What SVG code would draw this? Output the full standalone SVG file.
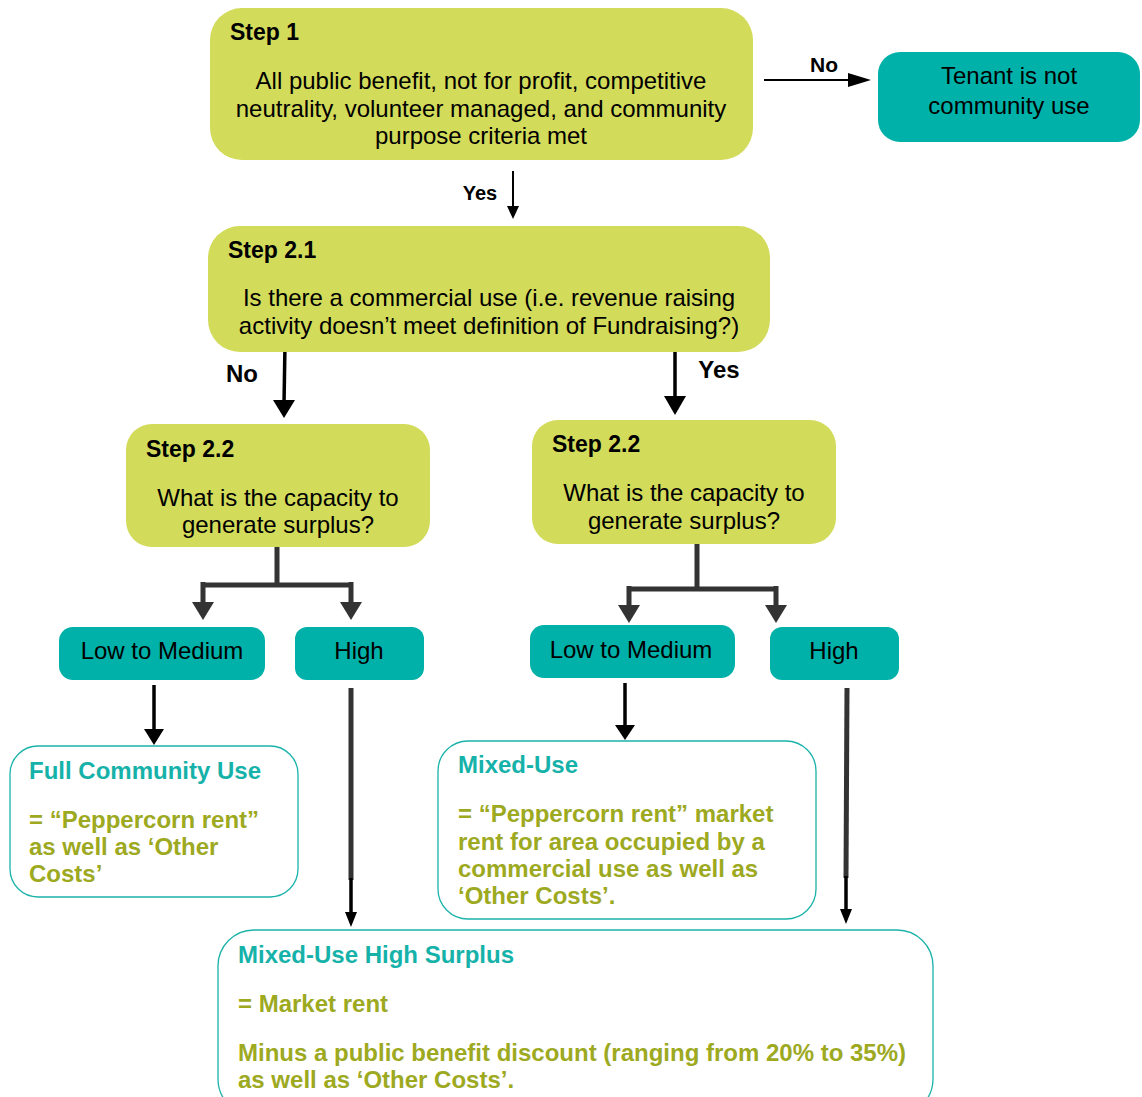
<svg xmlns="http://www.w3.org/2000/svg" width="1142" height="1097" viewBox="0 0 1142 1097">
<defs>
<style>
.yg{fill:#D3DB5B;}
.tl{fill:#00B1A9;}
.res{fill:#FFFFFF;stroke:#1AB3AA;stroke-width:1.3;}
text{font-family:"Liberation Sans",Arial,sans-serif;}
.step{font-size:23px;font-weight:bold;fill:#000;}
.body{font-size:24px;fill:#000;text-anchor:middle;}
.lab{font-weight:bold;fill:#000;text-anchor:middle;}
.opt{font-size:24px;fill:#000;text-anchor:middle;}
.rt{font-size:24px;font-weight:bold;fill:#16B2A9;}
.rb{font-size:24px;font-weight:bold;fill:#9DA91F;}
.thin{stroke:#000;stroke-width:2;fill:none;}
.med{stroke:#000;stroke-width:3.5;fill:none;}
.thick{stroke:#333;stroke-width:5;fill:none;}
</style>
</defs>
<g id="connectors">
<line class="thin" x1="764" y1="80" x2="860" y2="80"/>
<path d="M848,73 L871,80 L848,87z" fill="#000"/>
<line class="thin" x1="513" y1="171" x2="513" y2="208"/>
<path d="M507,206 L513,219 L519,206z" fill="#000"/>
<line class="med" x1="285" y1="344" x2="284" y2="404"/>
<path d="M273,400 L284,418 L295,400z" fill="#000"/>
<line class="med" x1="675" y1="342" x2="675" y2="400"/>
<path d="M664,396 L675,415 L686,396z" fill="#000"/>
<path class="thick" d="M277,533 V585 M203,585 H351 M203,582 V606 M351,582 V606"/>
<path d="M192,602 L203,620 L214,602z" fill="#333"/>
<path d="M340,602 L351,620 L362,602z" fill="#333"/>
<path class="thick" d="M697,544 V589 M629,589 H776 M629,586 V609 M776,586 V609"/>
<path d="M618,605 L629,623 L640,605z" fill="#333"/>
<path d="M765,605 L776,623 L787,605z" fill="#333"/>
<line class="med" x1="154" y1="685" x2="154" y2="732"/>
<path d="M144,729 L154,745 L164,729z" fill="#000"/>
<line x1="351" y1="688" x2="351" y2="880" stroke="#333" stroke-width="5"/>
<line class="med" x1="351" y1="878" x2="351" y2="915"/>
<path d="M345,912 L351,927 L357,912z" fill="#000"/>
<line class="med" x1="625" y1="683" x2="625" y2="728"/>
<path d="M615,725 L625,740 L635,725z" fill="#000"/>
<line x1="847" y1="688" x2="846" y2="878" stroke="#333" stroke-width="5"/>
<line class="med" x1="846" y1="876" x2="846" y2="912"/>
<path d="M840,909 L846,924 L852,909z" fill="#000"/>
</g>
<g id="step1">
<rect class="yg" x="210" y="8" width="543" height="152" rx="32"/>
<text class="step" x="230" y="40">Step 1</text>
<text class="body" x="481" y="89">All public benefit, not for profit, competitive</text>
<text class="body" x="481" y="117">neutrality, volunteer managed, and community</text>
<text class="body" x="481" y="144">purpose criteria met</text>
</g>
<text class="lab" x="824" y="72" style="font-size:21px">No</text>
<g id="tenant">
<rect class="tl" x="878" y="52" width="262" height="90" rx="22"/>
<text class="opt" x="1009" y="84">Tenant is not</text>
<text class="opt" x="1009" y="114">community use</text>
</g>
<text class="lab" x="480" y="200" style="font-size:20px">Yes</text>
<g id="step21">
<rect class="yg" x="208" y="226" width="562" height="126" rx="32"/>
<text class="step" x="228" y="258">Step 2.1</text>
<text class="body" x="489" y="306">Is there a commercial use (i.e. revenue raising</text>
<text class="body" x="489" y="334">activity doesn’t meet definition of Fundraising?)</text>
</g>
<text class="lab" x="242" y="382" style="font-size:24px">No</text>
<text class="lab" x="719" y="378" style="font-size:24px">Yes</text>
<g id="step22a">
<rect class="yg" x="126" y="424" width="304" height="123" rx="26"/>
<text class="step" x="146" y="457">Step 2.2</text>
<text class="body" x="278" y="506">What is the capacity to</text>
<text class="body" x="278" y="533">generate surplus?</text>
</g>
<g id="step22b">
<rect class="yg" x="532" y="420" width="304" height="124" rx="26"/>
<text class="step" x="552" y="452">Step 2.2</text>
<text class="body" x="684" y="501">What is the capacity to</text>
<text class="body" x="684" y="529">generate surplus?</text>
</g>
<g id="lowmedA">
<rect class="tl" x="59" y="627" width="206" height="53" rx="14"/>
<text class="opt" x="162" y="659">Low to Medium</text>
</g>
<g id="highA">
<rect class="tl" x="295" y="627" width="129" height="53" rx="12"/>
<text class="opt" x="359" y="659">High</text>
</g>
<g id="lowmedB">
<rect class="tl" x="530" y="625" width="205" height="53" rx="14"/>
<text class="opt" x="631" y="658">Low to Medium</text>
</g>
<g id="highB">
<rect class="tl" x="770" y="627" width="129" height="53" rx="12"/>
<text class="opt" x="834" y="659">High</text>
</g>
<g id="fullcommunity">
<rect class="res" x="10" y="746" width="288" height="151" rx="28"/>
<text class="rt" x="29" y="779">Full Community Use</text>
<text class="rb" x="29" y="828">= “Peppercorn rent”</text>
<text class="rb" x="29" y="855">as well as ‘Other</text>
<text class="rb" x="29" y="882">Costs’</text>
</g>
<g id="mixeduse">
<rect class="res" x="438" y="741" width="378" height="178" rx="30"/>
<text class="rt" x="458" y="773">Mixed-Use</text>
<text class="rb" x="458" y="822">= “Peppercorn rent” market</text>
<text class="rb" x="458" y="850">rent for area occupied by a</text>
<text class="rb" x="458" y="877">commercial use as well as</text>
<text class="rb" x="458" y="904">‘Other Costs’.</text>
</g>
<g id="mixedhigh">
<rect class="res" x="218" y="930" width="715" height="185" rx="36"/>
<text class="rt" x="238" y="963">Mixed-Use High Surplus</text>
<text class="rb" x="238" y="1012">= Market rent</text>
<text class="rb" x="238" y="1061">Minus a public benefit discount (ranging from 20% to 35%)</text>
<text class="rb" x="238" y="1088">as well as ‘Other Costs’.</text>
</g>
</svg>
